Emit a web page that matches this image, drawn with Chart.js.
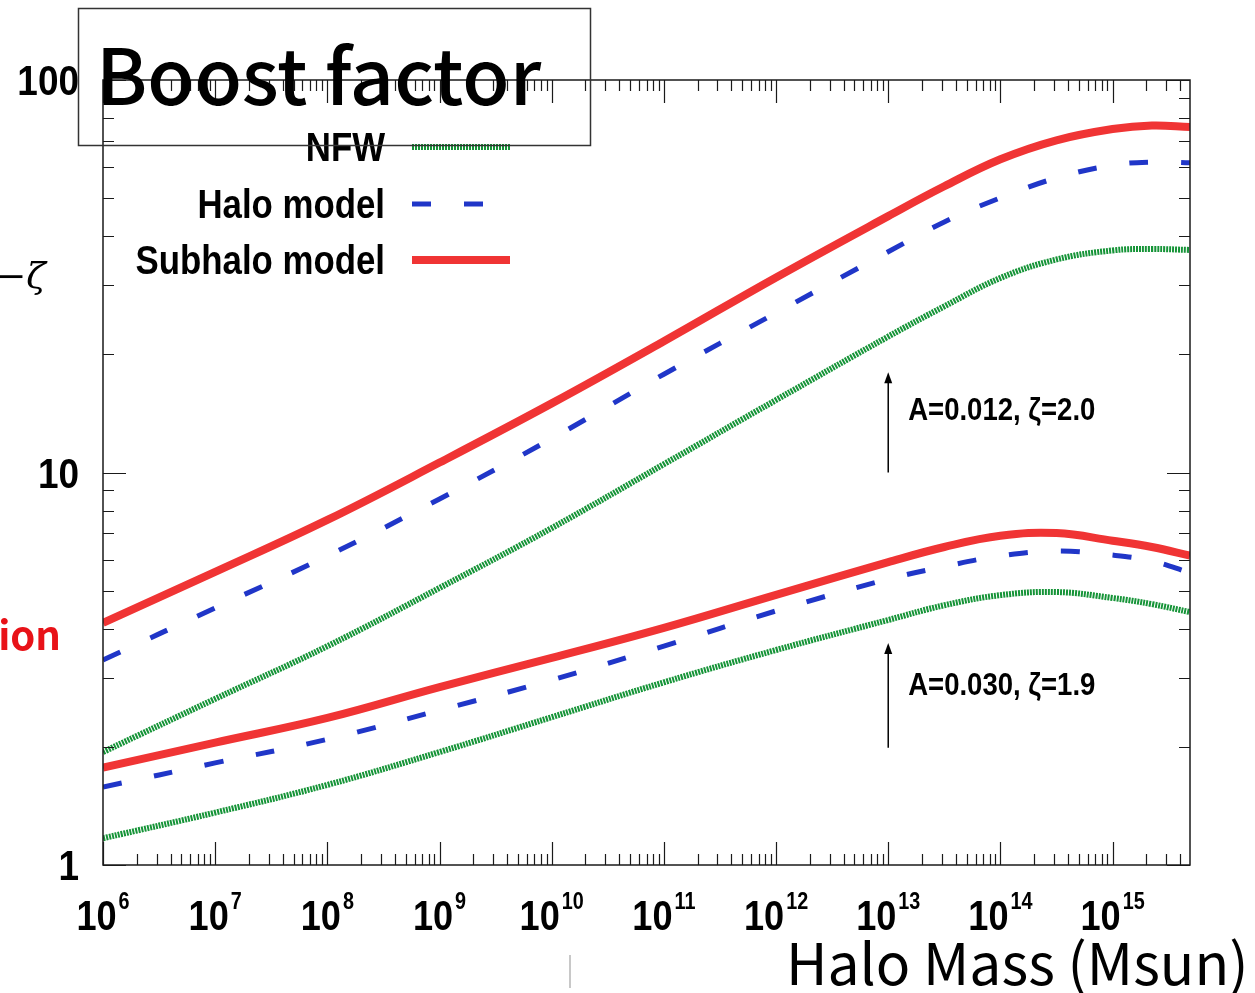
<!DOCTYPE html>
<html lang="en">
<head>
<meta charset="UTF-8">
<title>Boost factor</title>
<style>
    body { margin: 0; background: #fff; }
    canvas { display: block; }
</style>
</head>
<body>
<canvas id="myChart" width="1255" height="993"></canvas>
<script src="https://cdn.jsdelivr.net/npm/chart.js"></script>
<script>
    const masses = [1e6, 1e7, 1e8, 1e9, 1e10, 1e11, 1e12, 1e13, 3.16e13, 1e14, 3.16e14, 1e15, 2.24e15, 4.9e15];

    // upper set: A=0.012, zeta=2.0
    const nfwHigh = [1.94, 2.65, 3.61, 5.08, 7.22, 10.5, 15.3, 22.2, 26.5, 31.3, 34.9, 36.8, 37.1, 36.9];
    const haloHigh = [3.33, 4.52, 6.13, 8.56, 12.2, 17.8, 25.5, 36.5, 43.5, 50.1, 56.3, 60.7, 61.8, 61.5];
    const subhaloHigh = [4.14, 5.58, 7.57, 10.6, 15.0, 21.6, 31.4, 45.0, 53.6, 62.8, 70.2, 75.0, 76.6, 75.9];

    // lower set: A=0.030, zeta=1.9
    const nfwLow = [1.17, 1.36, 1.60, 1.94, 2.38, 2.92, 3.53, 4.21, 4.59, 4.87, 4.96, 4.79, 4.62, 4.41];
    const haloLow = [1.58, 1.82, 2.09, 2.48, 2.96, 3.61, 4.44, 5.35, 5.76, 6.13, 6.31, 6.16, 5.95, 5.55];
    const subhaloLow = [1.77, 2.05, 2.37, 2.84, 3.37, 4.02, 4.88, 5.91, 6.46, 6.90, 7.01, 6.70, 6.46, 6.14];

    const yTicks = ['1', '10', '100'];
    const xExponents = ['6', '7', '8', '9', '10', '11', '12', '13', '14', '15'];
    const legendNames = ['NFW', 'Halo model', 'Subhalo model'];
    const annotations = ['A=0.012, ζ=2.0', 'A=0.030, ζ=1.9'];

    const RED = 'rgb(240, 52, 52)';
    const BLUE = 'rgb(32, 54, 200)';
    const GREEN = 'rgb(22, 148, 56)';

    const styles = [
        { color: GREEN, width: 6, dash: [2, 1] },
        { color: BLUE, width: 5, dash: [19, 33] },
        { color: RED, width: 8, dash: [] },
    ];

    function pts(arr) {
        return arr.map((v, i) => ({ x: masses[i], y: v }));
    }

    function ds(arr, s) {
        return {
            data: pts(arr),
            borderColor: s.color,
            borderWidth: s.width,
            borderDash: s.dash,
            pointRadius: 0,
            tension: 0.4,
            fill: false,
        };
    }

    // condensed bold text like the original gnuplot font
    function text(ctx, str, x, y, font, align, sx) {
        ctx.save();
        ctx.translate(x, y);
        ctx.scale(sx, 1);
        ctx.font = font;
        ctx.textAlign = align;
        ctx.textBaseline = 'alphabetic';
        ctx.fillText(str, 0, 0);
        ctx.restore();
    }

    const decor = {
        id: 'decor',
        afterDatasetsDraw(chart) {
            const { ctx, chartArea: a } = chart;
            const xs = chart.scales.x;
            const ys = chart.scales.y;
            ctx.save();

            // frame
            ctx.strokeStyle = '#1a1a1a';
            ctx.lineWidth = 1.5;
            ctx.strokeRect(a.left, a.top, a.right - a.left, a.bottom - a.top);

            // ticks, drawn inward on all four sides
            ctx.lineWidth = 1.2;
            ctx.beginPath();
            for (let e = 0; e <= 2; e++) {
                for (let k = 1; k <= 9; k++) {
                    const v = k * Math.pow(10, e);
                    if (e === 2 && k > 1) continue;
                    const y = Math.round(ys.getPixelForValue(v)) + 0.5;
                    const len = k === 1 ? 23 : 11;
                    ctx.moveTo(a.left, y); ctx.lineTo(a.left + len, y);
                    ctx.moveTo(a.right, y); ctx.lineTo(a.right - len, y);
                }
            }
            for (let e = 6; e <= 15; e++) {
                for (let k = 1; k <= 9; k++) {
                    const v = k * Math.pow(10, e);
                    if (v > xs.max) continue;
                    const x = Math.round(xs.getPixelForValue(v)) + 0.5;
                    const len = k === 1 ? 23 : 11;
                    ctx.moveTo(x, a.bottom); ctx.lineTo(x, a.bottom - len);
                    ctx.moveTo(x, a.top); ctx.lineTo(x, a.top + len);
                }
            }
            ctx.stroke();

            // y tick labels
            ctx.fillStyle = '#000';
            yTicks.forEach((t) => {
                const y = ys.getPixelForValue(Number(t));
                text(ctx, t, 79, y + 15, 'bold 42px "Liberation Sans"', 'right', 0.88);
            });

            // x tick labels 10^n
            xExponents.forEach((n) => {
                const x = xs.getPixelForValue(Math.pow(10, Number(n)));
                ctx.font = 'bold 42px "Liberation Sans"';
                const wb = ctx.measureText('10').width * 0.86;
                ctx.font = 'bold 23px "Liberation Sans"';
                const we = ctx.measureText(n).width * 0.86;
                const left = x - (wb + we + 2) / 2;
                text(ctx, '10', left, 930, 'bold 42px "Liberation Sans"', 'left', 0.86);
                text(ctx, n, left + wb + 2, 909, 'bold 23px "Liberation Sans"', 'left', 0.86);
            });

            // legend
            const legY = [147, 204, 260];
            legendNames.forEach((name, i) => {
                text(ctx, name, 385, legY[i] + 14, 'bold 40px "Liberation Sans"', 'right', 0.87);
                const s = styles[i];
                ctx.save();
                ctx.strokeStyle = s.color;
                ctx.lineWidth = s.width;
                ctx.setLineDash(s.dash);
                ctx.beginPath();
                ctx.moveTo(412, legY[i]);
                ctx.lineTo(510, legY[i]);
                ctx.stroke();
                ctx.restore();
            });

            // arrows and parameter labels
            const arrows = [[10, 18.0, 14.6], [1.99, 3.68, 2.91]];
            const ax = xs.getPixelForValue(1e13);
            ctx.strokeStyle = '#000';
            ctx.fillStyle = '#000';
            ctx.lineWidth = 1.5;
            arrows.forEach((ar, i) => {
                const y0 = ys.getPixelForValue(ar[0]);
                const y1 = ys.getPixelForValue(ar[1]);
                ctx.beginPath();
                ctx.moveTo(ax, y0);
                ctx.lineTo(ax, y1 + 6);
                ctx.stroke();
                ctx.beginPath();
                ctx.moveTo(ax, y1);
                ctx.lineTo(ax - 4, y1 + 11);
                ctx.lineTo(ax + 4, y1 + 11);
                ctx.closePath();
                ctx.fill();
                const ty = ys.getPixelForValue(ar[2]);
                text(ctx, annotations[i], ax + 20, ty + 12, 'bold 32px "Liberation Sans"', 'left', 0.86);
            });

            // slide overlays around the plot
            ctx.strokeStyle = '#333';
            ctx.lineWidth = 1.5;
            ctx.strokeRect(78.5, 8.5, 512, 137);
            ctx.fillStyle = '#000';
            ctx.font = '500 77px "Noto Sans CJK JP"';
            ctx.textAlign = 'left';
            ctx.fillText('Boost factor', 96, 105);

            ctx.font = '400 57px "Noto Sans CJK JP"';
            ctx.fillText('Halo Mass (Msun)', 786, 985);

            ctx.font = 'italic 36px "DejaVu Serif"';
            ctx.fillText('−ζ', -4, 288);

            ctx.fillStyle = 'rgb(232, 18, 24)';
            ctx.font = 'bold 40px "Noto Sans CJK JP"';
            ctx.textAlign = 'right';
            ctx.fillText('ion', 61, 650);

            ctx.strokeStyle = '#c8c8c8';
            ctx.lineWidth = 2;
            ctx.beginPath();
            ctx.moveTo(570, 955);
            ctx.lineTo(570, 988);
            ctx.stroke();

            ctx.restore();
        }
    };

    const chart = new Chart(document.getElementById('myChart').getContext('2d'), {
        type: 'line',
        data: {
            datasets: [
                ds(nfwHigh, styles[0]),
                ds(haloHigh, styles[1]),
                ds(subhaloHigh, styles[2]),
                ds(nfwLow, styles[0]),
                ds(haloLow, styles[1]),
                ds(subhaloLow, styles[2]),
            ]
        },
        options: {
            responsive: false,
            animation: false,
            layout: { padding: { left: 103, right: 65, top: 80, bottom: 128 } },
            plugins: { legend: { display: false }, tooltip: { enabled: false } },
            scales: {
                x: { type: 'logarithmic', min: 1e6, max: 4.9e15, display: false },
                y: { type: 'logarithmic', min: 1, max: 100, display: false }
            }
        },
        plugins: [decor]
    });
</script>
</body>
</html>
